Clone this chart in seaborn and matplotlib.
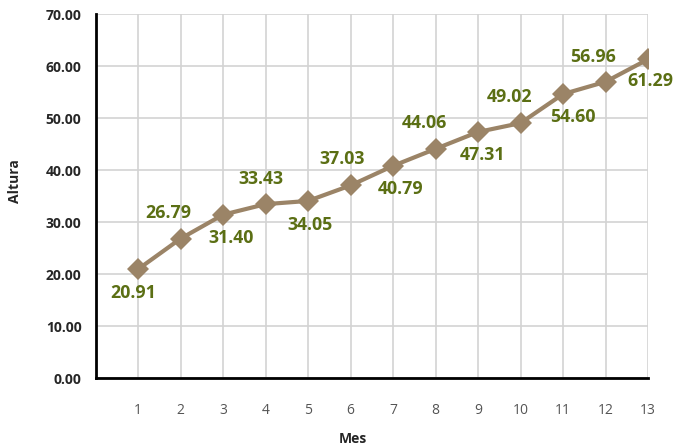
import matplotlib
matplotlib.use("Agg")
import matplotlib.pyplot as plt
import seaborn as sns
import pandas as pd

mes = [1, 2, 3, 4, 5, 6, 7, 8, 9, 10, 11, 12, 13]
altura = [20.91, 26.79, 31.40, 33.43, 34.05, 37.03, 40.79,
          44.06, 47.31, 49.02, 54.60, 56.96, 61.29]

# label offsets in pixels (dx right, dy down) - placement only
offs = [(-5, 24), (-12, -26), (8, 23), (-5, -25), (2, 24), (-8, -26), (8, 23),
        (-11, -26), (4, 23), (-11, -26), (10, 23), (-12, -25), (2, 22)]

sns.set_style("white")
plt.rcParams['font.family'] = ['Open Sans', 'DejaVu Sans']

df = pd.DataFrame({"Mes": mes, "Altura": altura})

fig = plt.figure(figsize=(6.77, 4.48), dpi=100)
ax = fig.add_axes([95.5 / 677, 70 / 448, 552.5 / 677, 364 / 448])

sns.lineplot(data=df, x="Mes", y="Altura", ax=ax, color="#9b8467", lw=3,
             marker="D", markersize=11, markeredgewidth=0, zorder=3)

for x, y, (dx, dy) in zip(mes, altura, offs):
    ax.annotate(f"{y:.2f}", (x, y), xytext=(dx, -dy), textcoords="offset pixels",
                ha="center", va="center", color="#5b6f14", fontsize=12.8,
                fontweight="bold")

ax.set_xlim(0, 13)
ax.set_ylim(0, 70)
ax.set_xticks(mes)
ax.set_yticks(range(0, 71, 10))
ax.set_yticklabels([f"{v:.2f}" for v in range(0, 71, 10)], fontweight="bold",
                   fontsize=10)
ax.tick_params(axis="x", labelsize=10, labelcolor="#555555", direction="out",
               length=6, width=2, color="black", pad=12)
ax.tick_params(axis="y", direction="out", length=6, width=2, color="black",
               pad=4)
ax.grid(True, color="#d3d3d3", lw=1.2)
for s in ["top", "right"]:
    ax.spines[s].set_visible(False)
for s in ["left", "bottom"]:
    ax.spines[s].set_color("black")
    ax.spines[s].set_linewidth(2)

ax.set_xlabel("Mes", fontweight="bold", fontsize=10, va="center")
ax.set_ylabel("Altura", fontweight="bold", fontsize=10, va="center")
ax.xaxis.set_label_coords((353 - 95.5) / 552.5, (378 - 439) / 364)
ax.yaxis.set_label_coords((15 - 95.5) / 552.5, (378 - 181) / 364)

fig.savefig("out.png", dpi=100)
